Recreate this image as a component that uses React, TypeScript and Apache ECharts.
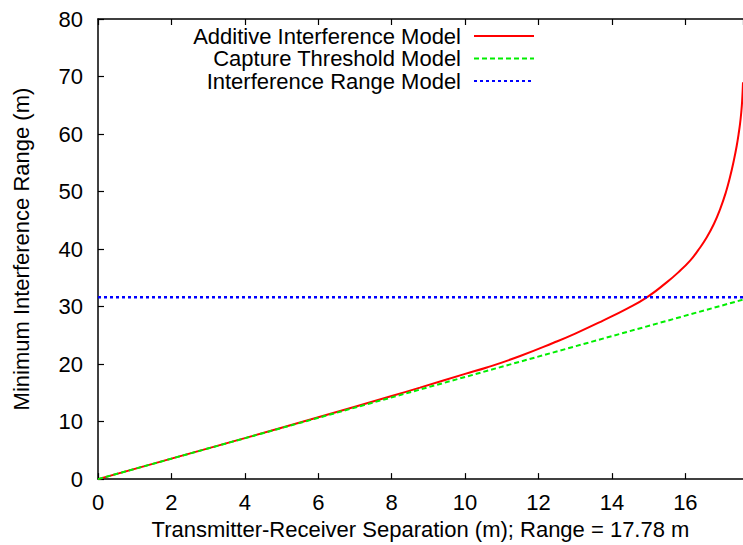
import React, { useEffect, useRef } from "react";
import * as echarts from "echarts";

const xAdditive = [0, 2, 4, 6, 8, 8.77, 10, 10.59, 11.5, 12.41, 13, 13.77, 14.4, 14.95, 15.49, 15.8, 16.13, 16.35, 16.58, 16.78, 16.95, 17.1, 17.22, 17.32, 17.4, 17.45, 17.49, 17.52, 17.545, 17.57];
const yAdditive = [0, 3.56, 7.13, 10.75, 14.45, 15.9, 18.3, 19.4, 21.4, 23.7, 25.3, 27.6, 29.6, 31.6, 34.2, 35.9, 38.0, 39.8, 42.0, 44.4, 47.0, 49.8, 52.6, 55.4, 58.0, 60.0, 61.8, 63.6, 65.6, 69.0];
const xCapture = [0, 17.57];
const yCapture = [0, 31.2];
const xInterf = [0, 17.57];
const yInterf = [31.6, 31.6];
const seriesNames = ["Additive Interference Model", "Capture Threshold Model", "Interference Range Model"];

const pairs = (xs: number[], ys: number[]) => xs.map((x, i) => [x, ys[i]]);

export default function App() {
  const ref = useRef<HTMLDivElement>(null);
  useEffect(() => {
    const chart = echarts.init(ref.current!, null, { renderer: "svg" });
    const font = "Liberation Sans, Arial, Helvetica, sans-serif";
    const axisLine = { show: true, lineStyle: { color: "#000", width: 1.5 } };
    const tick = { show: true, inside: true, length: 6, lineStyle: { color: "#000", width: 1.2 } };
    chart.setOption({
      animation: false,
      backgroundColor: "#fff",
      grid: { left: 98, right: 0, top: 19, bottom: 65 },
      legend: {
        orient: "vertical",
        right: 203,
        top: 20,
        align: "right",
        itemWidth: 60,
        itemHeight: 14,
        itemGap: 0.5,
        itemStyle: { opacity: 0 },
        textStyle: { fontFamily: font, fontSize: 22, lineHeight: 22, color: "#000", padding: [0, 8, 0, 0] },
        data: seriesNames,
      },
      xAxis: [
        {
          type: "value",
          min: 0,
          max: 17.57,
          interval: 2,
          name: "Transmitter-Receiver Separation (m); Range = 17.78 m",
          nameLocation: "middle",
          nameGap: 38,
          nameTextStyle: { fontFamily: font, fontSize: 22, color: "#000" },
          axisLine,
          axisTick: tick,
          axisLabel: { fontFamily: font, fontSize: 22, color: "#000", margin: 12, showMaxLabel: false },
          splitLine: { show: false },
        },
        {
          type: "value",
          position: "top",
          min: 0,
          max: 17.57,
          interval: 2,
          axisLine,
          axisTick: tick,
          axisLabel: { show: false },
          splitLine: { show: false },
        },
      ],
      yAxis: {
        type: "value",
        min: 0,
        max: 80,
        interval: 10,
        name: "Minimum Interference Range (m)",
        nameLocation: "middle",
        nameGap: 66,
        nameTextStyle: { fontFamily: font, fontSize: 22, color: "#000" },
        axisLine,
        axisTick: tick,
        axisLabel: { fontFamily: font, fontSize: 22, color: "#000", margin: 15 },
        splitLine: { show: false },
      },
      series: [
        {
          name: seriesNames[0],
          type: "line",
          data: pairs(xAdditive, yAdditive),
          smooth: 0.5,
          showSymbol: false,
          symbol: "none",
          color: "#ff0000",
          lineStyle: { color: "#ff0000", width: 2 },
        },
        {
          name: seriesNames[1],
          type: "line",
          data: pairs(xCapture, yCapture),
          showSymbol: false,
          symbol: "none",
          color: "#00ee00",
          lineStyle: { color: "#00ee00", width: 2, type: [5, 3] },
        },
        {
          name: seriesNames[2],
          type: "line",
          data: pairs(xInterf, yInterf),
          showSymbol: false,
          symbol: "none",
          color: "#0000ff",
          lineStyle: { color: "#0000ff", width: 2.5, type: [3, 3] },
        },
      ],
    });
    return () => chart.dispose();
  }, []);
  return <div ref={ref} style={{ position: "absolute", left: 0, top: 0, width: 743, height: 545 }} />;
}
